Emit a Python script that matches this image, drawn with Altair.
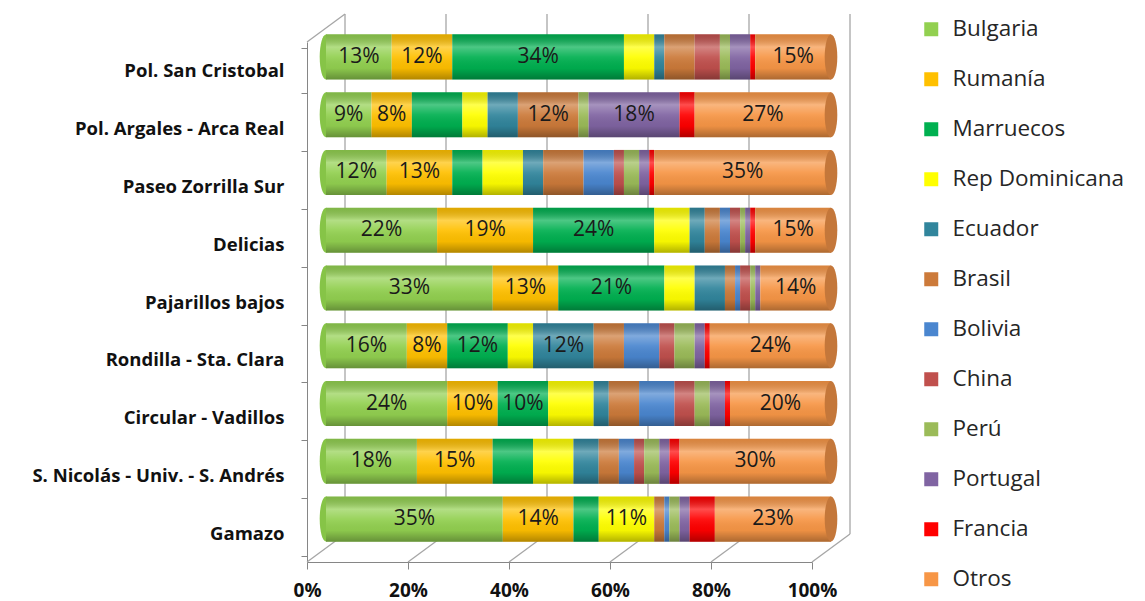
import altair as alt
import pandas as pd

# Districts, top to bottom
areas = [
    "Pol. San Cristobal",
    "Pol. Argales - Arca Real",
    "Paseo Zorrilla Sur",
    "Delicias",
    "Pajarillos bajos",
    "Rondilla - Sta. Clara",
    "Circular - Vadillos",
    "S. Nicolás - Univ. - S. Andrés",
    "Gamazo",
]

countries = ["Bulgaria", "Rumanía", "Marruecos", "Rep Dominicana", "Ecuador", "Brasil",
             "Bolivia", "China", "Perú", "Portugal", "Francia", "Otros"]
colors = ["#92D050", "#FFC000", "#00B050", "#FFFF00", "#31859C", "#CC7A3A",
          "#4A86CF", "#C0504D", "#9BBB59", "#8064A2", "#FF0000", "#F79646"]

# Share (%) of each nationality per district, in the district order above
bulgaria = [13, 9, 12, 22, 33, 16, 24, 18, 35]
rumania = [12, 8, 13, 19, 13, 8, 10, 15, 14]
marruecos = [34, 10, 6, 24, 21, 12, 10, 8, 5]
rep_dominicana = [6, 5, 8, 7, 6, 5, 9, 8, 11]
ecuador = [2, 6, 4, 3, 6, 12, 3, 5, 0]
brasil = [6, 12, 8, 3, 2, 6, 6, 4, 2]
bolivia = [0, 0, 6, 2, 1, 7, 7, 3, 1]
china = [5, 0, 2, 2, 2, 3, 4, 2, 0]
peru = [2, 2, 3, 1, 1, 4, 3, 3, 2]
portugal = [4, 18, 2, 1, 1, 2, 3, 2, 2]
francia = [1, 3, 1, 1, 0, 1, 1, 2, 5]
otros = [15, 27, 35, 15, 14, 24, 20, 30, 23]

shares = dict(zip(countries, [bulgaria, rumania, marruecos, rep_dominicana, ecuador, brasil,
                              bolivia, china, peru, portugal, francia, otros]))

# Segments that carry a percentage label
labelled = {
    "Pol. San Cristobal": ["Bulgaria", "Rumanía", "Marruecos", "Otros"],
    "Pol. Argales - Arca Real": ["Bulgaria", "Rumanía", "Brasil", "Portugal", "Otros"],
    "Paseo Zorrilla Sur": ["Bulgaria", "Rumanía", "Otros"],
    "Delicias": ["Bulgaria", "Rumanía", "Marruecos", "Otros"],
    "Pajarillos bajos": ["Bulgaria", "Rumanía", "Marruecos", "Otros"],
    "Rondilla - Sta. Clara": ["Bulgaria", "Rumanía", "Marruecos", "Ecuador", "Otros"],
    "Circular - Vadillos": ["Bulgaria", "Rumanía", "Marruecos", "Otros"],
    "S. Nicolás - Univ. - S. Andrés": ["Bulgaria", "Rumanía", "Otros"],
    "Gamazo": ["Bulgaria", "Rumanía", "Rep Dominicana", "Otros"],
}

ticks = [0, 20, 40, 60, 80, 100]

# Stacked segments
records = []
for i, area in enumerate(areas):
    start = 0
    for c in countries:
        v = shares[c][i]
        if v > 0:
            records.append({
                "area": area, "country": c, "value": v,
                "start": start, "end": start + v, "mid": start + v / 2,
                "label": f"{v}%" if c in labelled[area] else "",
            })
        start += v
seg = pd.DataFrame(records)
totals = pd.DataFrame({"area": areas, "start": 0,
                       "total": [sum(shares[c][i] for c in countries) for i in range(len(areas))]})
tick_df = pd.DataFrame({"t": ticks})

W, H = 505, 520
DX, DY = 38, -28          # depth of the box (back wall offset)
BX, BY = DX / 2, DY / 2   # bars sit half way into the box
GRID = "#A6A6A6"
AXIS = "#868686"

x_scale = alt.Scale(domain=[0, 100], nice=False, zero=True)
y_scale = alt.Scale(domain=areas, paddingInner=0.22, paddingOuter=0.11)
x_axis = alt.Axis(
    values=ticks, labelExpr="datum.value + '%'", grid=False, title=None,
    domainColor=AXIS, tickColor=AXIS, tickSize=7, labelFlush=False,
    labelFont="Open Sans", labelFontSize=19, labelFontWeight="bold",
    labelColor="#111111", labelPadding=12)
y_axis = alt.Axis(
    title=None, grid=False, domainColor=AXIS, tickColor=AXIS, tickSize=6,
    tickBand="extent", labelFont="Open Sans", labelFontSize=18.5,
    labelFontWeight="bold", labelColor="#111111", labelPadding=17, labelLimit=400)
ellipse = "M0,-1A0.28,1,0,1,1,0,1A0.28,1,0,1,1,0,-1Z"
cap_size = 2025


def xq(field):
    return alt.X(f"{field}:Q", scale=x_scale, axis=x_axis)


def yn():
    return alt.Y("area:N", scale=y_scale, sort=areas, axis=y_axis)


# Back wall gridlines
back_grid = alt.Chart(tick_df).mark_rule(
    color=GRID, strokeWidth=1.3, xOffset=DX, yOffset=DY, y2Offset=DY
).encode(x=xq("t"), y=alt.value(0), y2=alt.value(H))

# Floor diagonals from the front edge to the back wall
floor = alt.Chart(tick_df).mark_rule(
    color=GRID, strokeWidth=1.3, x2Offset=DX, y2Offset=DY
).encode(x=xq("t"), x2="t:Q", y=alt.value(H), y2=alt.value(H))

# Left wall top edge
top_edge = alt.Chart(tick_df[tick_df.t == 0]).mark_rule(
    color=GRID, strokeWidth=1.3, x2Offset=DX, y2Offset=DY
).encode(x=xq("t"), x2="t:Q", y=alt.value(0), y2=alt.value(0))

# Rounded left end of each cylinder
left_cap = alt.Chart(totals).mark_point(
    shape=ellipse, size=cap_size, filled=True, opacity=1, color="#86C447",
    xOffset=BX, yOffset=BY
).encode(x=xq("start"), y=yn())

# Cylinder body segments
body = alt.Chart(seg).mark_bar(
    xOffset=BX, x2Offset=BX, yOffset=BY, y2Offset=BY
).encode(
    x=xq("start"),
    x2="end:Q",
    y=yn(),
    color=alt.Color("country:N", scale=alt.Scale(domain=countries, range=colors),
                    legend=alt.Legend(
                        orient="none", legendX=613, legendY=-24, title=None,
                        symbolType="square", symbolSize=196, symbolStrokeWidth=0,
                        symbolOpacity=1, labelFont="Open Sans", labelFontSize=22.5,
                        labelColor="#262626", rowPadding=27, labelOffset=10,
                        labelLimit=300, padding=0)),
)

# Cylindrical shading over each bar
shade = alt.Chart(totals).mark_bar(
    xOffset=BX, x2Offset=BX, yOffset=BY, y2Offset=BY,
    color=alt.Gradient(
        gradient="linear", x1=0, x2=0, y1=0, y2=1,
        stops=[
            alt.GradientStop(color="rgba(0,0,0,0.12)", offset=0),
            alt.GradientStop(color="rgba(255,255,255,0.30)", offset=0.28),
            alt.GradientStop(color="rgba(255,255,255,0.08)", offset=0.5),
            alt.GradientStop(color="rgba(0,0,0,0.04)", offset=0.75),
            alt.GradientStop(color="rgba(0,0,0,0.30)", offset=1),
        ],
    ),
).encode(x=xq("start"), x2="total:Q", y=yn())

# End face of each cylinder
right_cap = alt.Chart(totals).mark_point(
    shape=ellipse, size=cap_size, filled=True, opacity=1, color="#C4773A",
    xOffset=BX, yOffset=BY
).encode(x=xq("total"), y=yn())

labels = alt.Chart(seg[seg.label != ""]).mark_text(
    font="Open Sans", fontSize=21, color="#1A1A1A", dx=BX, dy=BY
).encode(x=xq("mid"), y=yn(), text="label:N")

chart = alt.layer(
    back_grid, floor, top_edge, left_cap, body, shade, right_cap, labels
).properties(
    width=W, height=H,
    padding={"left": 307, "top": 42, "right": 1145 - 307 - W, "bottom": 601 - 42 - H},
    autosize=alt.AutoSizeParams(type="none"),
    background="white",
).configure_view(strokeWidth=0)

chart.save("out.html", embed_options={"renderer": "svg", "actions": False})
